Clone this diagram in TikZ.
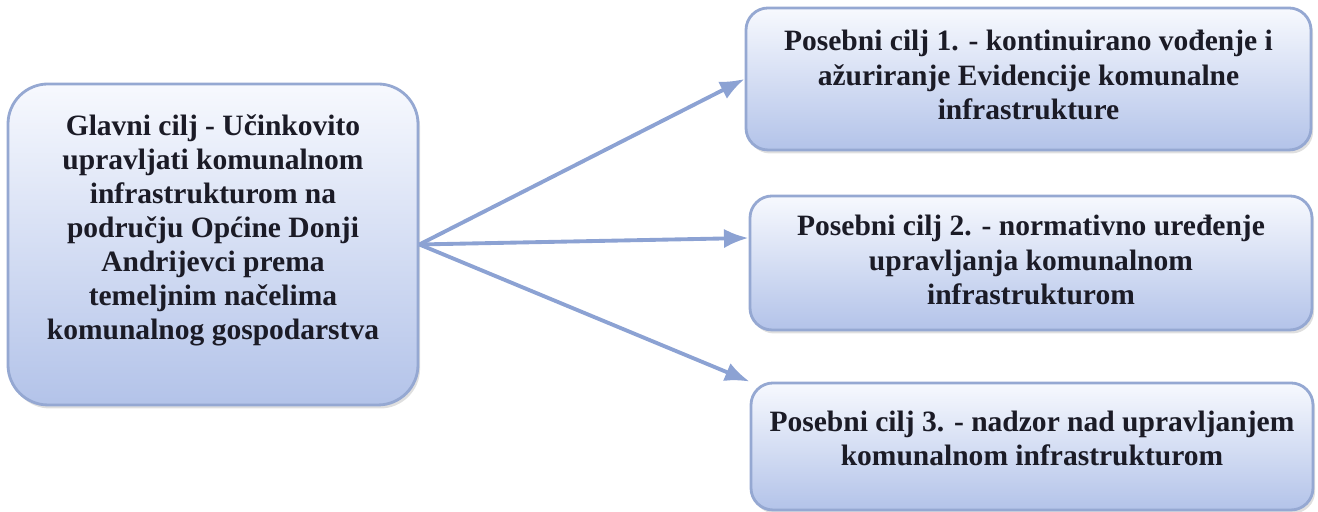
\documentclass[tikz,border=0pt]{standalone}
\usepackage{fontspec}
\setmainfont{Liberation Serif}
\usetikzlibrary{arrows.meta,positioning,shadows,calc}
\definecolor{boxtop}{HTML}{F7F9FE}
\definecolor{boxbot}{HTML}{B3C3E9}
\definecolor{boxline}{HTML}{95A8D2}
\definecolor{arrowcol}{HTML}{8CA2D3}
\definecolor{txtcol}{HTML}{1B1B26}

\begin{document}
\begin{tikzpicture}[
  goalbox/.style={draw=boxline, line width=0.8pt, rounded corners=#1, top color=boxtop, bottom color=boxbot,
    drop shadow={opacity=0.25, shadow xshift=0.6pt, shadow yshift=-1pt}},
  goaltext/.style={align=center, text=txtcol, font=\fontsize{8.4}{9.7}\selectfont\bfseries},
  link/.style={draw=arrowcol, line width=1.1pt, -{Latex[length=7pt,width=5.5pt]}}]
\useasboundingbox (0,0) rectangle (13.18,5.12);
% main goal
\node[goalbox=0.4cm, minimum width=4.10cm, minimum height=3.21cm] (main) at (2.13,2.675) {};
\node[goaltext] (mainTxt) at ([yshift=0.14cm]main.center) {Glavni cilj - Učinkovito\\upravljati komunalnom\\infrastrukturom na\\području Općine Donji\\Andrijevci prema\\temeljnim načelima\\komunalnog gospodarstva};
% specific goals
\node[goalbox=0.22cm, minimum width=5.65cm, minimum height=1.42cm] (b1) at (10.285,4.33) {};
\node[goaltext] (b1Txt) at ([yshift=0.04cm]b1.center) {Posebni cilj 1. - kontinuirano vođenje i\\ažuriranje Evidencije komunalne\\infrastrukture};
\node[goalbox=0.22cm, minimum width=5.62cm, minimum height=1.34cm] (b2) at (10.31,2.49) {};
\node[goaltext] (b2Txt) at ([yshift=0.03cm]b2.center) {Posebni cilj 2. - normativno uređenje\\upravljanja komunalnom\\infrastrukturom};
\node[goalbox=0.22cm, minimum width=5.62cm, minimum height=1.27cm] (b3) at (10.32,0.655) {};
\node[goaltext] (b3Txt) at ([yshift=0.08cm]b3.center) {Posebni cilj 3. - nadzor nad upravljanjem\\komunalnom infrastrukturom};
% arrows
\foreach \dst/\dy in {b1.west/0, b2.west/0.25, b3.north west/0}
  \draw[link] (main.east) -- ([yshift=\dy cm]\dst);
\end{tikzpicture}
\end{document}
